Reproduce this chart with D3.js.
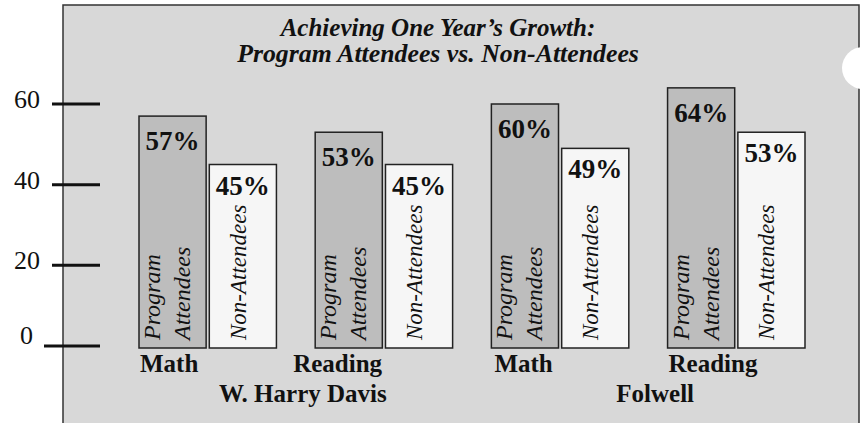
<!DOCTYPE html>
<html>
<head>
<meta charset="utf-8">
<script src="https://cdn.jsdelivr.net/npm/d3@7"></script>
<style>
  html, body { margin: 0; padding: 0; background: #ffffff; }
  svg { display: block; }
  text { font-family: "Liberation Serif", "Times New Roman", serif; fill: #111; }
</style>
</head>
<body>
<svg id="chart" width="866" height="423"></svg>
<script>
// ---- data ----
const titleLines = ["Achieving One Year\u2019s Growth:", "Program Attendees vs. Non-Attendees"];
const schools = ["W. Harry Davis", "Folwell"];
const subjects = ["Math", "Reading", "Math", "Reading"];
const groupSchool = [0, 0, 1, 1];
const seriesNames = ["Program Attendees", "Non-Attendees"];
const programValues = [57, 53, 60, 64];
const nonAttendeeValues = [45, 45, 49, 53];
const yTicks = [0, 20, 40, 60];

// ---- layout / style ----
const W = 866, H = 423;
const panel = { x: 63, y: 5, right: 859 };
const colors = { panel: "#d8d8d8", program: "#bdbdbd", non: "#f6f6f6", stroke: "#222" };
const labelNudge = [1, -22, 3, 1];

const svg = d3.select("#chart");

const groupIds = subjects.map((s, i) => i);
const x0 = d3.scaleBand().domain(groupIds).range([139, 805]).paddingInner(0.22).paddingOuter(0);
const x1 = d3.scaleBand().domain([0, 1]).range([0, x0.bandwidth()]).paddingInner(0.045).paddingOuter(0);
const y = d3.scaleLinear().domain([0, 60]).range([346, 104]);

// panel background
svg.append("rect")
  .attr("x", panel.x).attr("y", panel.y)
  .attr("width", panel.right - panel.x).attr("height", H - panel.y + 10)
  .attr("fill", colors.panel)
  .attr("stroke", "#333").attr("stroke-width", 1.5);

// hole-punch circle at right edge
svg.append("circle").attr("cx", 863).attr("cy", 68).attr("r", 21).attr("fill", "#fff");

// title
svg.append("g").selectAll("text").data(titleLines).join("text")
  .attr("x", 438).attr("y", (d, i) => 36 + i * 26)
  .attr("text-anchor", "middle")
  .attr("font-size", (d, i) => i === 0 ? 25 : 25.8).attr("font-weight", "bold").attr("font-style", "italic")
  .text(d => d);

// y axis ticks (long dashes crossing the panel edge)
const yAxisG = svg.append("g");
yAxisG.selectAll("line").data(yTicks).join("line")
  .attr("x1", d => d === 0 ? 44 : 52).attr("x2", 100)
  .attr("y1", d => y(d)).attr("y2", d => y(d))
  .attr("stroke", "#111").attr("stroke-width", 3);
yAxisG.selectAll("text").data(yTicks).join("text")
  .attr("x", d => d === 0 ? 33 : 40)
  .attr("y", d => y(d) + (d === 0 ? -2 : 4))
  .attr("text-anchor", "end")
  .attr("font-size", 26)
  .text(d => d);

// bars
const rows = groupIds.map(i => ({ i, vals: [programValues[i], nonAttendeeValues[i]] }));
const groups = svg.append("g").selectAll("g").data(rows).join("g")
  .attr("transform", d => `translate(${x0(d.i)},0)`);

const bars = groups.selectAll("g.bar").data(d => d.vals.map((v, k) => ({ v, k }))).join("g").attr("class", "bar");

bars.append("rect")
  .attr("x", d => x1(d.k)).attr("y", d => y(d.v))
  .attr("width", x1.bandwidth()).attr("height", d => y(0) + 2 - y(d.v))
  .attr("fill", d => d.k === 0 ? colors.program : colors.non)
  .attr("stroke", colors.stroke).attr("stroke-width", 1.5);

bars.append("text")
  .attr("x", d => x1(d.k) + x1.bandwidth() / 2)
  .attr("y", d => y(d.v) + (d.k === 0 ? 34 : 30))
  .attr("text-anchor", "middle")
  .attr("font-size", 27).attr("font-weight", "bold")
  .text(d => d.v + "%");

// rotated series labels
bars.each(function(d) {
  const g = d3.select(this);
  const left = x1(d.k);
  const bw = x1.bandwidth();
  if (d.k === 0) {
    const parts = seriesNames[0].split(" ");
    parts.forEach((p, j) => {
      const bx = left + 21 + j * 30;
      g.append("text")
        .attr("transform", `translate(${bx},340) rotate(-90)`)
        .attr("font-size", 24).attr("font-style", "italic")
        .text(p);
    });
  } else {
    const bx = left + bw / 2 + 3;
    g.append("text")
      .attr("transform", `translate(${bx},340) rotate(-90)`)
      .attr("font-size", 23).attr("font-style", "italic")
      .text(seriesNames[1]);
  }
});

// subject labels
svg.append("g").selectAll("text").data(groupIds).join("text")
  .attr("x", i => x0(i) + labelNudge[i])
  .attr("y", 372)
  .attr("font-size", 25).attr("font-weight", "bold")
  .text(i => subjects[i]);

// school labels
svg.append("g").selectAll("text").data(schools).join("text")
  .attr("x", (s, si) => {
    const ids = groupIds.filter(i => groupSchool[i] === si);
    const a = x0(ids[0]), b = x0(ids[ids.length - 1]) + x0.bandwidth();
    return (a + b) / 2 + 7;
  })
  .attr("y", 402)
  .attr("text-anchor", "middle")
  .attr("font-size", 25).attr("font-weight", "bold")
  .text(d => d);
</script>
</body>
</html>
